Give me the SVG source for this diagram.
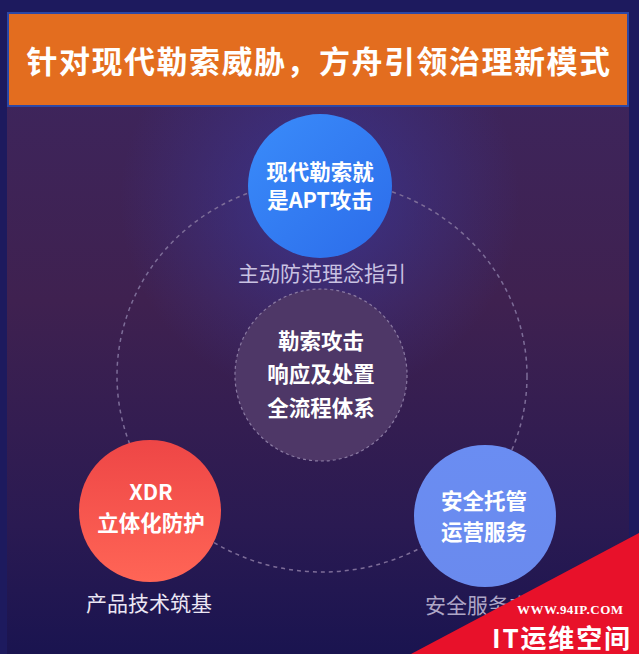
<svg xmlns="http://www.w3.org/2000/svg" width="639" height="654" viewBox="0 0 639 654">
<defs>
<linearGradient id="bg" x1="0" y1="0" x2="0" y2="1">
<stop offset="0" stop-color="#3d2660"/>
<stop offset="0.45" stop-color="#3f2150"/>
<stop offset="0.8" stop-color="#2a1a52"/>
<stop offset="1" stop-color="#1a1450"/>
</linearGradient>
<radialGradient id="glow" cx="320" cy="200" r="200" gradientUnits="userSpaceOnUse">
<stop offset="0" stop-color="#3a3aa0" stop-opacity="0.7"/>
<stop offset="1" stop-color="#3a3aa0" stop-opacity="0"/>
</radialGradient>
<linearGradient id="gBlue" x1="0" y1="0" x2="1" y2="1">
<stop offset="0" stop-color="#3a8cfa"/>
<stop offset="1" stop-color="#2c6cea"/>
</linearGradient>
<linearGradient id="gRed" x1="0" y1="0" x2="0" y2="1">
<stop offset="0" stop-color="#ee4646"/>
<stop offset="1" stop-color="#ff6556"/>
</linearGradient>
<linearGradient id="gPeri" x1="0" y1="0" x2="0" y2="1">
<stop offset="0" stop-color="#6a8df2"/>
<stop offset="1" stop-color="#6a8aee"/>
</linearGradient>
<style>
.cjk{font-family:"Noto Sans CJK SC","Noto Sans",sans-serif;}
.title{font-size:31px;font-weight:700;fill:#ffffff;letter-spacing:1.5px;}
.node{font-size:21.5px;font-weight:700;fill:#ffffff;}
.cap{font-size:21px;font-weight:400;}
.ring{fill:none;stroke:#7d6d98;stroke-width:1.5;stroke-dasharray:4 4;}
</style>
</defs>
<rect x="0" y="0" width="639" height="654" fill="#1d1a5e"/>
<rect x="7" y="13" width="622" height="641" fill="url(#bg)"/>
<rect x="7" y="13" width="622" height="641" fill="url(#glow)"/>
<g id="banner">
<rect x="8" y="13" width="620" height="93" fill="#e36d1f" stroke="#2c47a6" stroke-width="2"/>
<text class="cjk title" x="319" y="73" text-anchor="middle">针对现代勒索威胁，方舟引领治理新模式</text>
</g>
<g id="connectors">
<ellipse class="ring" cx="322" cy="376" rx="205" ry="196"/>
</g>
<g id="center">
<circle cx="321" cy="375" r="86" fill="#4e3767" stroke="#8a7aa2" stroke-width="1.2" stroke-dasharray="3 3"/>
<text class="cjk node" x="321" y="349" text-anchor="middle">勒索攻击</text>
<text class="cjk node" x="321" y="382" text-anchor="middle">响应及处置</text>
<text class="cjk node" x="321" y="416" text-anchor="middle">全流程体系</text>
</g>
<g id="top">
<circle cx="320" cy="186" r="72" fill="url(#gBlue)"/>
<text class="cjk node" x="320" y="180" text-anchor="middle">现代勒索就</text>
<text class="cjk node" x="320" y="208" text-anchor="middle">是APT攻击</text>
<text class="cjk cap" x="322" y="281" text-anchor="middle" fill="#c9c2e2">主动防范理念指引</text>
</g>
<g id="left">
<circle cx="150" cy="511" r="71" fill="url(#gRed)"/>
<text class="cjk node" x="151" y="500" text-anchor="middle">XDR</text>
<text class="cjk node" x="151" y="531" text-anchor="middle">立体化防护</text>
<text class="cjk cap" x="149" y="611" text-anchor="middle" fill="#ebe6f4">产品技术筑基</text>
</g>
<g id="right">
<circle cx="485" cy="516" r="71" fill="url(#gPeri)"/>
<text class="cjk node" x="484" y="509" text-anchor="middle">安全托管</text>
<text class="cjk node" x="484" y="540" text-anchor="middle">运营服务</text>
<text class="cjk cap" x="425" y="613" fill="#aea6c6">安全服务支撑</text>
</g>
<g id="watermark">
<polygon points="639,533 639,654 411,654" fill="#e8112a"/>
<text x="517" y="614" font-family="Liberation Serif,serif" font-weight="700" font-size="13" fill="#ffffff" textLength="106">WWW.94IP.COM</text>
<text class="cjk" x="492" y="648" font-weight="700" font-size="26" fill="#ffffff" textLength="138">IT运维空间</text>
</g>
</svg>
